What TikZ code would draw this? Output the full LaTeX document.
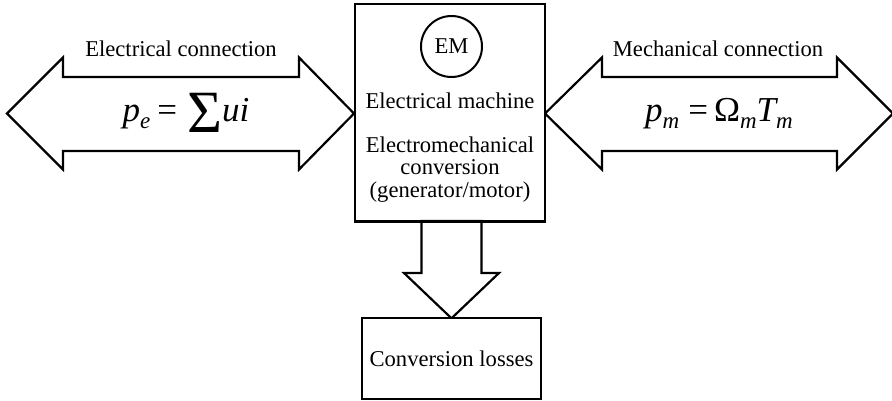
\documentclass[tikz,border=0pt]{standalone}
\usepackage{fontspec}
\setmainfont{Liberation Serif}
\newcommand\mysubscr[1]{\raisebox{-7pt}{\fontsize{23}{23}\selectfont\itshape #1}}
\begin{document}
\begin{tikzpicture}[x=1pt,y=-1pt,
  outline/.style={draw=black,line width=2.2pt,line join=miter,fill=white},
  lbl/.style={font=\fontsize{22.6}{22.6}\selectfont,inner sep=0pt,anchor=base},
  frm/.style={font=\fontsize{35}{35}\selectfont,inner sep=0pt,anchor=base}]
\clip (0,0) rectangle (892,401);
\fill[white] (0,0) rectangle (892,401);
% left arrow
\draw[outline] (7,113.5) -- (63,57.5) -- (63,77) -- (299,77) -- (299,57.5)
  -- (354,113.5) -- (299,169.5) -- (299,151) -- (63,151) -- (63,169.5) -- cycle;
% right arrow
\draw[outline] (545,113.5) -- (602,57.5) -- (602,77) -- (837,77) -- (837,57.5)
  -- (893,113.5) -- (837,169.5) -- (837,151) -- (602,151) -- (602,169.5) -- cycle;
% main box
\node[outline,minimum width=190pt,minimum height=217pt,inner sep=0pt] (em) at (450,112.5) {};
% down arrow
\draw[outline] (421.5,221) -- (481.5,221) -- (481.5,273) -- (499,273) -- (451.5,318.3)
  -- (404,273) -- (421.5,273) -- cycle;
\draw[line width=2.2pt] (em.south west) -- (em.south east);
% losses box
\node[outline,minimum width=179pt,minimum height=81pt,inner sep=0pt,
  font=\fontsize{22.6}{22.6}\selectfont] (loss) at (451.5,358.5) {Conversion losses};
% EM circle
\node[draw,circle,line width=2pt,minimum size=61pt,inner sep=0pt,
  font=\fontsize{22.6}{22.6}\selectfont] (emc) at (451.5,46.5) {EM};
% labels
\node[lbl] (lel) at (181,57) {Electrical connection};
\node[lbl] (lme) at (718,57) {Mechanical connection};
\node[lbl] (t1) at (450,109) {Electrical machine};
\node[lbl] (t2) at (450,153) {Electromechanical};
\node[lbl] (t3) at (450,175) {conversion};
\node[lbl] (t4) at (450,197) {(generator/motor)};
% formulas
\node[frm] (pe) at (186,122) {{\itshape p}\mysubscr{e}\hspace{7pt}=\hspace{10pt}\raisebox{-11pt}{\fontsize{60}{60}\selectfont Σ}{\itshape ui}};
\node[frm] (pm) at (719,122) {{\itshape p}\mysubscr{m}\hspace{9pt}=\hspace{6pt}Ω\mysubscr{m}{\itshape T}\mysubscr{m}};
\end{tikzpicture}
\end{document}
